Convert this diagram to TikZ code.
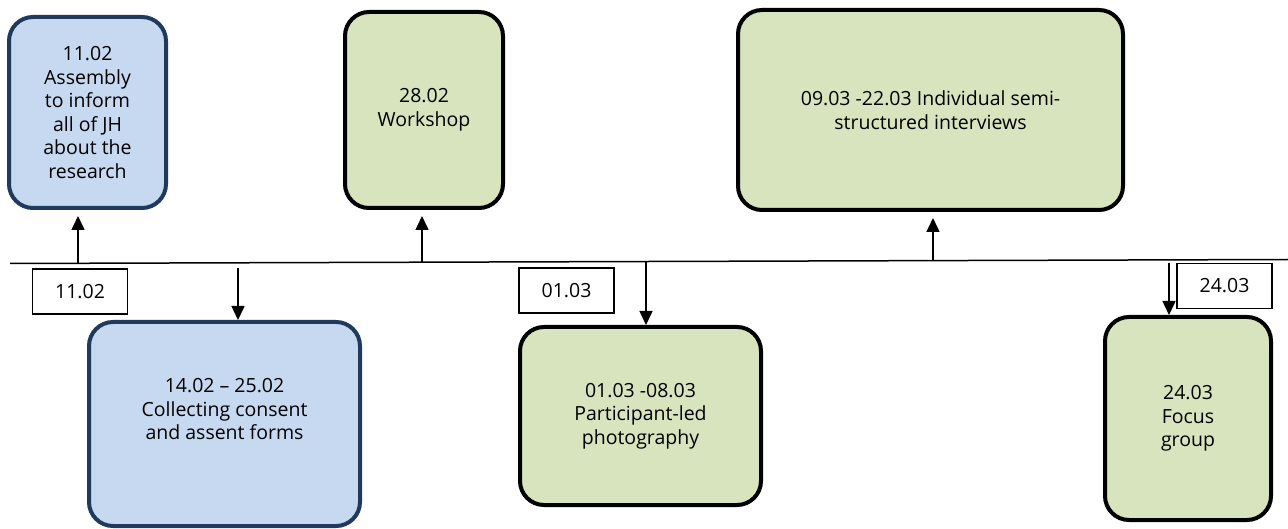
\documentclass[tikz,border=0pt]{standalone}
\usepackage{fontspec}
\setmainfont{Open Sans}
\usetikzlibrary{arrows.meta}

\definecolor{phaseblue}{HTML}{C6D9F1}
\definecolor{phaseborder}{HTML}{1F3A5C}
\definecolor{phasegreen}{HTML}{D7E4BD}

\begin{document}
\begin{tikzpicture}[x=1pt,y=-1pt,>={Triangle[width=13pt,length=14pt]},
		every node/.style={font=\fontsize{19.5}{23.5}\selectfont,align=center,inner sep=0pt},
		blueevent/.style={draw=phaseborder,fill=phaseblue,line width=4pt,rounded corners=24pt},
		greenevent/.style={draw=black,fill=phasegreen,line width=4pt,rounded corners=24pt},
		datebox/.style={draw=black,line width=1.3pt,minimum width=95pt,minimum height=45pt},
		eventarrow/.style={->,line width=1.5pt}]
				\useasboundingbox (0,0) rectangle (1288,529);
				
				%Zeitstrahl
				\coordinate (start) at (10,263.5);
				\coordinate (end) at (1288,259.5);
				\draw[line width=1.5pt] (start) -- (end);
				
				%Phasen oben
				\node[blueevent,minimum width=157pt,minimum height=191pt] (assembly) at (87.5,112.5) {11.02\\Assembly\\to inform\\all of JH\\about the\\research};
				\node[greenevent,minimum width=158pt,minimum height=196pt] (workshop) at (424,110) {28.02\\Workshop};
				\node[greenevent,minimum width=385pt,minimum height=200pt] (interviews) at (930.5,110) {09.03 -22.03 Individual semi-\\structured interviews};
				
				%Phasen unten
				\node[blueevent,minimum width=271pt,minimum height=204pt,text depth=30pt] (consent) at (224.5,424) {14.02 -- 25.02\\Collecting consent\\and assent forms};
				\node[greenevent,minimum width=241pt,minimum height=178pt] (photo) at (640.5,416) {01.03 -08.03\\Participant-led\\photography};
				\node[greenevent,minimum width=166pt,minimum height=203pt] (focus) at (1188,418.5) {24.03\\Focus\\group};
				
				%Daten
				\foreach \name/\x/\y/\datum in
					{date1/80/291.5/11.02,date2/566.5/290.5/01.03,date3/1224.5/286/24.03}
						\node[datebox] (\name) at (\x,\y) {\datum};
				
				%Pfeile
				\foreach \x/\y/\ziel in
					{78/263.3/assembly,422/262.2/workshop,933/260.6/interviews}
					\draw[eventarrow,shorten >=6pt] (\x,\y) coordinate (p) -- (p |- \ziel.south);
				\foreach \x/\y/\ziel in
					{238/268/consent,646/261.5/photo,1169/263/focus}
					\draw[eventarrow] (\x,\y) coordinate (p) -- (p |- \ziel.north);
	\end{tikzpicture}
\end{document}
